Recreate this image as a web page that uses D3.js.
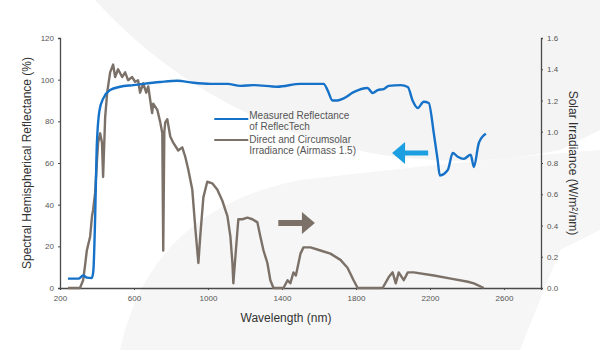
<!DOCTYPE html>
<html>
<head>
<meta charset="utf-8">
<script src="https://cdn.jsdelivr.net/npm/d3@7"></script>
<style>
  html, body { margin: 0; padding: 0; background: #fff; }
  #chart { width: 600px; height: 350px; }
</style>
</head>
<body>
<div id="chart"></div>
<script>
// Reflectance of ReflecTech film (%), left axis
const reflNm  = [243, 300, 325, 345, 372, 380, 390, 398, 413, 434, 471, 525, 597, 650, 742, 834, 921, 1013, 1105, 1175, 1245, 1375, 1500, 1625, 1646, 1673, 1700, 1733, 1787, 1862, 1890, 1917, 1950, 1977, 2042, 2080, 2106, 2134, 2166, 2193, 2221, 2242, 2253, 2296, 2323, 2350, 2383, 2420, 2437, 2464, 2502];
const reflPct = [4.5, 4.5, 6, 5, 4.8, 8, 34, 66, 85, 91, 95, 96.6, 97.4, 98, 98.9, 99.5, 98.5, 98, 98, 97, 97.4, 96.6, 98, 98, 95, 90, 90, 91, 94, 96, 93.6, 95, 95.5, 97, 97.4, 96.5, 90, 86.4, 89.4, 88.8, 74, 61, 54, 56.6, 64.8, 63, 62, 64, 58, 69.6, 74];

// Direct + circumsolar irradiance AM1.5 (W/m2/nm), right axis
const irrNm  = [243, 308, 325, 335, 345, 363, 373, 379, 390, 400, 406, 417, 427, 433, 444, 455, 471, 487, 498, 514, 536, 552, 568, 590, 606, 622, 633, 650, 666, 677, 688, 698, 704, 726, 742, 753, 758, 764, 769, 780, 796, 812, 839, 861, 877, 893, 915, 931, 942, 948, 958, 975, 996, 1023, 1050, 1077, 1105, 1121, 1132, 1137, 1148, 1164, 1186, 1213, 1240, 1267, 1283, 1300, 1321, 1337, 1354, 1408, 1430, 1445, 1462, 1475, 1500, 1516, 1554, 1608, 1662, 1716, 1754, 1787, 1809, 1944, 1977, 1998, 2015, 2031, 2058, 2080, 2112, 2221, 2313, 2405, 2437, 2491];
const irrVal = [0, 0, 0.05, 0.14, 0.24, 0.33, 0.46, 0.5, 0.61, 0.82, 0.93, 0.99, 0.93, 0.71, 1.09, 1.25, 1.38, 1.43, 1.35, 1.40, 1.35, 1.38, 1.33, 1.35, 1.32, 1.33, 1.25, 1.31, 1.25, 1.29, 1.2, 1.12, 1.18, 1.14, 1.06, 0.99, 0.24, 1.0, 1.06, 1.08, 0.97, 0.93, 0.88, 0.9, 0.84, 0.76, 0.63, 0.39, 0.24, 0.16, 0.33, 0.58, 0.68, 0.67, 0.63, 0.56, 0.46, 0.33, 0.16, 0.03, 0.2, 0.44, 0.44, 0.45, 0.44, 0.42, 0.33, 0.24, 0.16, 0.05, 0, 0, 0.05, 0.03, 0.1, 0.08, 0.22, 0.26, 0.26, 0.24, 0.22, 0.18, 0.13, 0.05, 0, 0, 0.07, 0.1, 0.03, 0.1, 0.05, 0.1, 0.1, 0.08, 0.06, 0.04, 0.03, 0];

const xTicks  = [200, 600, 1000, 1400, 1800, 2200, 2600];
const yLTicks = [0, 20, 40, 60, 80, 100, 120];
const yRTicks = [0, 0.2, 0.4, 0.6, 0.8, 1.0, 1.2, 1.4, 1.6];

const legendItems = [
  { lines: ["Measured Reflectance", "of ReflecTech"], color: "#1572c8" },
  { lines: ["Direct and Circumsolar", "Irradiance (Airmass 1.5)"], color: "#7b7168" }
];

const W = 600, H = 350;
const margin = { top: 38, right: 59, bottom: 62, left: 60 };
const iW = W - margin.left - margin.right;
const iH = H - margin.top - margin.bottom;
const FONT = "'Liberation Sans', Helvetica, Arial, sans-serif";
const BLUE = "#1572c8", BROWN = "#7b7168", AXIS = "#4a4a4a";

const svg = d3.select("#chart").append("svg")
  .attr("width", W).attr("height", H)
  .style("font-family", FONT);

// faint decorative swoosh in the background
const bg = svg.append("g");
bg.append("path")
  .attr("fill", "#f4f4f4")
  .attr("d", `M95,0 A490,490 0 0 0 560,150 L600,130 L600,0 Z`);
bg.append("path")
  .attr("fill", "#f6f6f6")
  .attr("d", `M120,350 Q150,210 300,180 Q470,160 600,150 L600,230 L560,250 L520,350 Z`);

const g = svg.append("g").attr("transform", `translate(${margin.left},${margin.top})`);

const x  = d3.scaleLinear().domain([200, 2800]).range([0, iW]);
const yL = d3.scaleLinear().domain([0, 120]).range([iH, 0]);
const yR = d3.scaleLinear().domain([0, 1.6]).range([iH, 0]);

// axes
g.append("g")
  .attr("transform", `translate(0,${iH})`)
  .call(d3.axisBottom(x).tickValues(xTicks).tickSize(2).tickPadding(5).tickFormat(d3.format("d")))
  .call(a => a.select(".domain").attr("stroke", AXIS).attr("stroke-width", 1.3))
  .call(a => a.selectAll(".tick line").attr("stroke", AXIS))
  .call(a => a.selectAll("text").attr("fill", "#555").attr("font-size", 8).attr("font-family", FONT));

g.append("g")
  .call(d3.axisLeft(yL).tickValues(yLTicks).tickSize(2).tickPadding(4))
  .call(a => a.select(".domain").attr("stroke", AXIS).attr("stroke-width", 1.3))
  .call(a => a.selectAll(".tick line").attr("stroke", AXIS))
  .call(a => a.selectAll("text").attr("fill", "#555").attr("font-size", 8).attr("font-family", FONT));

g.append("g")
  .attr("transform", `translate(${iW},0)`)
  .call(d3.axisRight(yR).tickValues(yRTicks).tickSize(2).tickPadding(4).tickFormat(d3.format(".1f")))
  .call(a => a.select(".domain").attr("stroke", AXIS).attr("stroke-width", 1.3))
  .call(a => a.selectAll(".tick line").attr("stroke", AXIS))
  .call(a => a.selectAll("text").attr("fill", "#555").attr("font-size", 8).attr("font-family", FONT));

// series
const irr  = irrNm.map((n, i) => [n, irrVal[i]]);
const refl = reflNm.map((n, i) => [n, reflPct[i]]);

g.append("path").datum(irr)
  .attr("fill", "none").attr("stroke", BROWN).attr("stroke-width", 2.4).attr("stroke-linejoin", "round")
  .attr("d", d3.line().x(d => x(d[0])).y(d => yR(d[1])));

g.append("path").datum(refl)
  .attr("fill", "none").attr("stroke", BLUE).attr("stroke-width", 2.4).attr("stroke-linejoin", "round")
  .attr("d", d3.line().x(d => x(d[0])).y(d => yL(d[1])).curve(d3.curveMonotoneX));

// direction arrows: brown points to right axis, blue to left axis
function arrow(x0, x1, yv, color, shaft, headW, headL) {
  const dir = Math.sign(x1 - x0);
  const hx = x1 - dir * headL;
  g.append("path").attr("fill", color)
    .attr("d", `M${x0},${yv - shaft / 2} L${hx},${yv - shaft / 2} L${hx},${yv - headW / 2} L${x1},${yv} L${hx},${yv + headW / 2} L${hx},${yv + shaft / 2} L${x0},${yv + shaft / 2} Z`);
}
arrow(x(1380), x(1578), yR(0.416), "#7b7168", 6, 22, 13);
arrow(x(2190), x(1995), yL(64.8), "#1b9fe0", 5, 22, 13);

// legend
const lg = g.append("g").attr("transform", `translate(${x(1034)},0)`);
legendItems.forEach((it, i) => {
  const y0 = 81 + i * 20;
  lg.append("line").attr("x1", 0).attr("x2", 34).attr("y1", y0 - (i ? -1 : 0)).attr("y2", y0 - (i ? -1 : 0))
    .attr("stroke", it.color).attr("stroke-width", 2);
  it.lines.forEach((t, j) => {
    lg.append("text").attr("x", 35).attr("y", y0 + j * 10.5 + (i ? 4 : 0))
      .attr("font-size", 10).attr("fill", "#555").text(t);
  });
});

// axis titles
svg.append("text")
  .attr("transform", `translate(31,${margin.top + iH / 2}) rotate(-90)`)
  .attr("text-anchor", "middle").attr("font-size", 12).attr("fill", "#333")
  .text("Spectral Hemispherical Reflectance (%)");

svg.append("text")
  .attr("transform", `translate(569,${margin.top + iH / 2}) rotate(90)`)
  .attr("text-anchor", "middle").attr("font-size", 12).attr("fill", "#333")
  .text("Solar Irradiance (W/m²/nm)");

svg.append("text")
  .attr("x", 286).attr("y", 322)
  .attr("text-anchor", "middle").attr("font-size", 12).attr("fill", "#333")
  .text("Wavelength (nm)");
</script>
</body>
</html>
